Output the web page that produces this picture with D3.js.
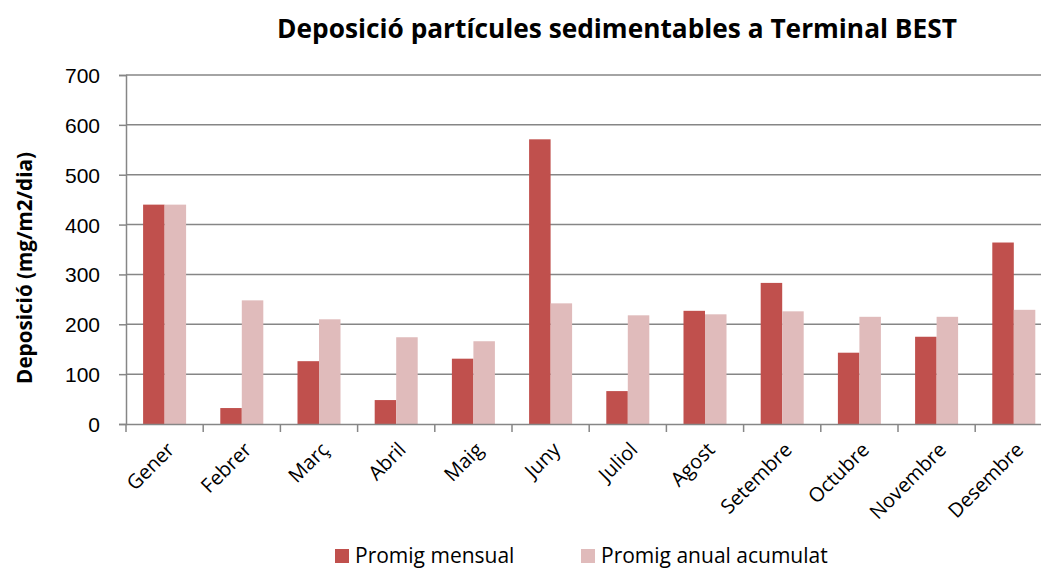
<!DOCTYPE html>
<html>
<head>
<meta charset="utf-8">
<script src="https://cdn.jsdelivr.net/npm/d3@7"></script>
<style>
  body { margin: 0; background: #fff; }
  svg { display: block; font-family: "Open Sans", sans-serif; }
</style>
</head>
<body>
<div id="chart"></div>
<script>
// Data
const months = ["Gener", "Febrer", "Març", "Abril", "Maig", "Juny", "Juliol", "Agost", "Setembre", "Octubre", "Novembre", "Desembre"];
const promigMensual = [440, 32, 126, 48, 131, 571, 66, 227, 283, 143, 175, 364];
const promigAnual = [440, 248, 210, 174, 166, 242, 218, 220, 226, 215, 215, 229];
const seriesNames = ["Promig mensual", "Promig anual acumulat"];
const seriesColors = ["#C0504D", "#E0BBBB"];
const yTicks = [0, 100, 200, 300, 400, 500, 600, 700];

const width = 1041, height = 572;
const margin = { top: 75, left: 126, bottom: 148 };
const step = 77.2;

const svg = d3.select("#chart").append("svg")
  .attr("width", width)
  .attr("height", height);

// fit a text element to a given length by scaling its font size
function fitText(sel, size, target) {
  const w = sel.node().getComputedTextLength();
  sel.style("font-size", (size * target / w) + "px");
}

const x = d3.scaleBand()
  .domain(months)
  .range([margin.left, margin.left + step * months.length])
  .padding(0);

const xInner = d3.scaleBand()
  .domain(seriesNames)
  .range([0, x.bandwidth()])
  .paddingInner(0)
  .paddingOuter(0.795);

const y = d3.scaleLinear()
  .domain([0, 700])
  .range([height - margin.bottom, margin.top]);

// gridlines
svg.append("g")
  .selectAll("line")
  .data(yTicks.slice(1))
  .enter().append("line")
  .attr("x1", margin.left)
  .attr("x2", width)
  .attr("y1", d => y(d))
  .attr("y2", d => y(d))
  .style("stroke", "#868686")
  .style("stroke-width", 1.5);

// bars
const data = months.map((m, i) => ({ month: m, values: [promigMensual[i], promigAnual[i]] }));
const groups = svg.append("g")
  .selectAll("g")
  .data(data)
  .enter().append("g")
  .attr("transform", d => "translate(" + x(d.month) + ",0)");

groups.selectAll("rect")
  .data(d => d.values.map((v, j) => ({ name: seriesNames[j], value: v, color: seriesColors[j] })))
  .enter().append("rect")
  .attr("x", d => xInner(d.name))
  .attr("width", xInner.bandwidth())
  .attr("y", d => y(d.value))
  .attr("height", d => y(0) - y(d.value))
  .style("fill", d => d.color);

// y axis
const yAxis = svg.append("g")
  .attr("transform", "translate(" + margin.left + ",0)")
  .call(d3.axisLeft(y).tickValues(yTicks).tickSize(7).tickPadding(19));
yAxis.select(".domain").style("stroke", "#868686").style("stroke-width", 1.5);
yAxis.selectAll(".tick line").style("stroke", "#868686").style("stroke-width", 1.5);
yAxis.selectAll("text")
  .style("font-size", "21px")
  .style("fill", "#000")
  .attr("dy", "0.36em");

// x axis
const xAxis = svg.append("g")
  .attr("transform", "translate(0," + y(0) + ")")
  .call(d3.axisBottom(x).tickSize(0).tickFormat(""));
xAxis.select(".domain").style("stroke", "#868686").style("stroke-width", 1.5);

// tick marks at category boundaries
svg.append("g")
  .selectAll("line")
  .data(months)
  .enter().append("line")
  .attr("x1", d => x(d))
  .attr("x2", d => x(d))
  .attr("y1", y(0))
  .attr("y2", y(0) + 8)
  .style("stroke", "#868686")
  .style("stroke-width", 1.5);

// x labels rotated
svg.append("g")
  .selectAll("text")
  .data(months)
  .enter().append("text")
  .attr("transform", d => "translate(" + (x(d) + x.bandwidth() / 2 + 6) + "," + (y(0) + 22) + ") rotate(-45)")
  .attr("text-anchor", "end")
  .attr("dy", "0.35em")
  .style("font-size", "20px")
  .style("fill", "#000")
  .text(d => d);

// title
const title = svg.append("text")
  .attr("x", 617)
  .attr("y", 38)
  .attr("text-anchor", "middle")
  .style("font-size", "23px")
  .style("font-weight", "bold")
  .text("Deposició partícules sedimentables a Terminal BEST");
fitText(title, 23, 680);

// y axis title
const yTitle = svg.append("text")
  .attr("transform", "translate(25,268) rotate(-90)")
  .attr("text-anchor", "middle")
  .attr("dy", "0.35em")
  .style("font-size", "18px")
  .style("font-weight", "bold")
  .text("Deposició (mg/m2/dia)");
fitText(yTitle, 18, 232);

// legend
const legendX = [335, 581];
const legend = svg.append("g")
  .selectAll("g")
  .data(seriesNames)
  .enter().append("g")
  .attr("transform", (d, i) => "translate(" + legendX[i] + ",549)");
legend.append("rect")
  .attr("width", 14)
  .attr("height", 14)
  .style("fill", (d, i) => seriesColors[i]);
legend.append("text")
  .attr("x", 20)
  .attr("y", 7)
  .attr("dy", "0.35em")
  .style("font-size", "21px")
  .text(d => d);
</script>
</body>
</html>
